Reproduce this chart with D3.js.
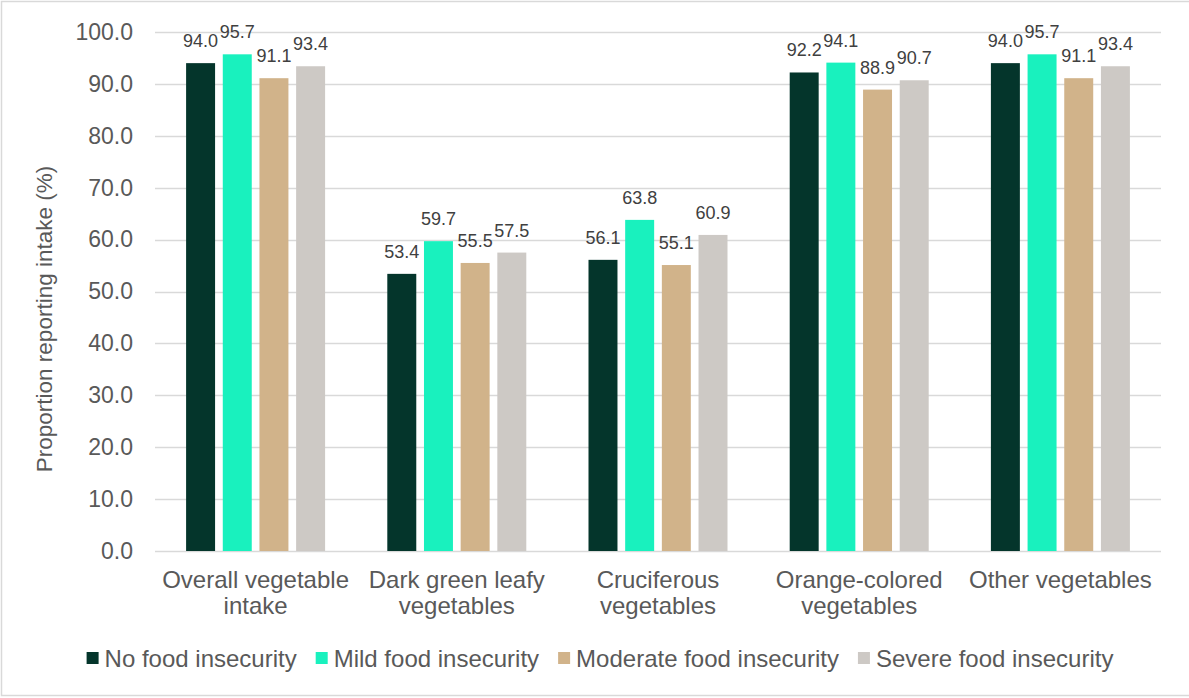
<!DOCTYPE html>
<html>
<head>
<meta charset="utf-8">
<script src="https://cdn.jsdelivr.net/npm/d3@7"></script>
<style>
  html, body { margin: 0; padding: 0; background: #fff; }
  svg { display: block; font-family: "Liberation Sans", Arial, sans-serif; }
</style>
</head>
<body>
<svg id="chart" width="1189" height="698"></svg>
<script>
// Vegetable groups (line breaks mark where the axis label wraps)
const categories = [
  "Overall vegetable\nintake",
  "Dark green leafy\nvegetables",
  "Cruciferous\nvegetables",
  "Orange-colored\nvegetables",
  "Other vegetables"
];

// Food insecurity levels
const seriesNames = [
  "No food insecurity",
  "Mild food insecurity",
  "Moderate food insecurity",
  "Severe food insecurity"
];

// Proportion reporting intake (%) per level, in category order
const noInsecurity       = [94.0, 53.4, 56.1, 92.2, 94.0];
const mildInsecurity     = [95.7, 59.7, 63.8, 94.1, 95.7];
const moderateInsecurity = [91.1, 55.5, 55.1, 88.9, 91.1];
const severeInsecurity   = [93.4, 57.5, 60.9, 90.7, 93.4];

const yTicks = [0, 10, 20, 30, 40, 50, 60, 70, 80, 90, 100];

const seriesValues = [noInsecurity, mildInsecurity, moderateInsecurity, severeInsecurity];
const colors = ["#04352b", "#19f1be", "#d1b38a", "#cdc9c5"];

const svg = d3.select("#chart");
const W = 1189, H = 698;
const plot = { left: 155, right: 1161, top: 32, bottom: 551 };

// outer frame
svg.append("rect")
  .attr("x", 1.5).attr("y", 1.5)
  .attr("width", W + 10).attr("height", H - 4)
  .attr("fill", "#fff").attr("stroke", "#d9d9d9").attr("stroke-width", 1.5);

const y = d3.scaleLinear().domain([0, 100]).range([plot.bottom, plot.top]);
const x0 = d3.scaleBand().domain(categories).range([plot.left, plot.right]).padding(0);
const groupSpan = 139;
const x1 = d3.scaleBand().domain(seriesNames)
  .range([(x0.bandwidth() - groupSpan) / 2, (x0.bandwidth() + groupSpan) / 2])
  .paddingInner(0.21).paddingOuter(0);

// gridlines
svg.append("g").selectAll("line").data(yTicks).join("line")
  .attr("x1", plot.left).attr("x2", plot.right)
  .attr("y1", d => Math.round(y(d)) + 0.5).attr("y2", d => Math.round(y(d)) + 0.5)
  .attr("stroke", "#d9d9d9").attr("stroke-width", 1.3);

// y axis labels
const yAxis = d3.axisLeft(y).tickValues(yTicks).tickFormat(d3.format(".1f")).tickSize(0).tickPadding(22);
const gy = svg.append("g").attr("transform", `translate(${plot.left},0)`).call(yAxis);
gy.select(".domain").remove();
gy.selectAll("text").attr("fill", "#595959").style("font-size", "23px")
  .style("font-family", "'Liberation Sans', Arial, sans-serif");

// y axis title
svg.append("text")
  .attr("transform", `translate(52,319) rotate(-90)`)
  .attr("text-anchor", "middle")
  .attr("fill", "#595959").style("font-size", "22.5px")
  .text("Proportion reporting intake (%)");

// bars
const groups = svg.append("g").selectAll("g").data(categories).join("g")
  .attr("transform", d => `translate(${x0(d)},0)`);

groups.selectAll("rect")
  .data((c, ci) => seriesNames.map((s, si) => ({ s, si, v: seriesValues[si][ci] })))
  .join("rect")
  .attr("x", d => x1(d.s))
  .attr("y", d => y(d.v))
  .attr("width", x1.bandwidth())
  .attr("height", d => y(0) - y(d.v))
  .attr("fill", d => colors[d.si]);

// value labels
groups.selectAll("text.val")
  .data((c, ci) => seriesNames.map((s, si) => ({ s, si, v: seriesValues[si][ci] })))
  .join("text")
  .attr("class", "val")
  .attr("x", d => x1(d.s) + x1.bandwidth() / 2)
  .attr("y", d => y(d.v) - 16)
  .attr("text-anchor", "middle")
  .attr("fill", "#404040").style("font-size", "18px")
  .text(d => d3.format(".1f")(d.v));

// category labels
const cat = svg.append("g").selectAll("text").data(categories).join("text")
  .attr("x", d => x0(d) + x0.bandwidth() / 2)
  .attr("y", 588)
  .attr("text-anchor", "middle")
  .attr("fill", "#595959").style("font-size", "24px");
cat.selectAll("tspan").data(d => d.split("\n")).join("tspan")
  .attr("x", function () { return d3.select(this.parentNode).attr("x"); })
  .attr("dy", (d, i) => i === 0 ? 0 : 25.5)
  .text(d => d);

// legend
const legend = svg.append("g");
const legendFont = 24, box = 12, boxGap = 6, itemGap = 19;
let cursor = 0;
seriesNames.forEach((name, i) => {
  const g = legend.append("g");
  g.append("rect").attr("x", 0).attr("y", -box / 2 - 1).attr("width", box).attr("height", box).attr("fill", colors[i]);
  const t = g.append("text").attr("x", box + boxGap).attr("y", 0).attr("dy", "0.35em")
    .attr("fill", "#595959").style("font-size", legendFont + "px").text(name);
  const w = box + boxGap + t.node().getComputedTextLength();
  g.attr("transform", `translate(${cursor},0)`);
  cursor += w + itemGap;
});
const legendWidth = cursor - itemGap;
legend.attr("transform", `translate(${600 - legendWidth / 2},659)`);
</script>
</body>
</html>
